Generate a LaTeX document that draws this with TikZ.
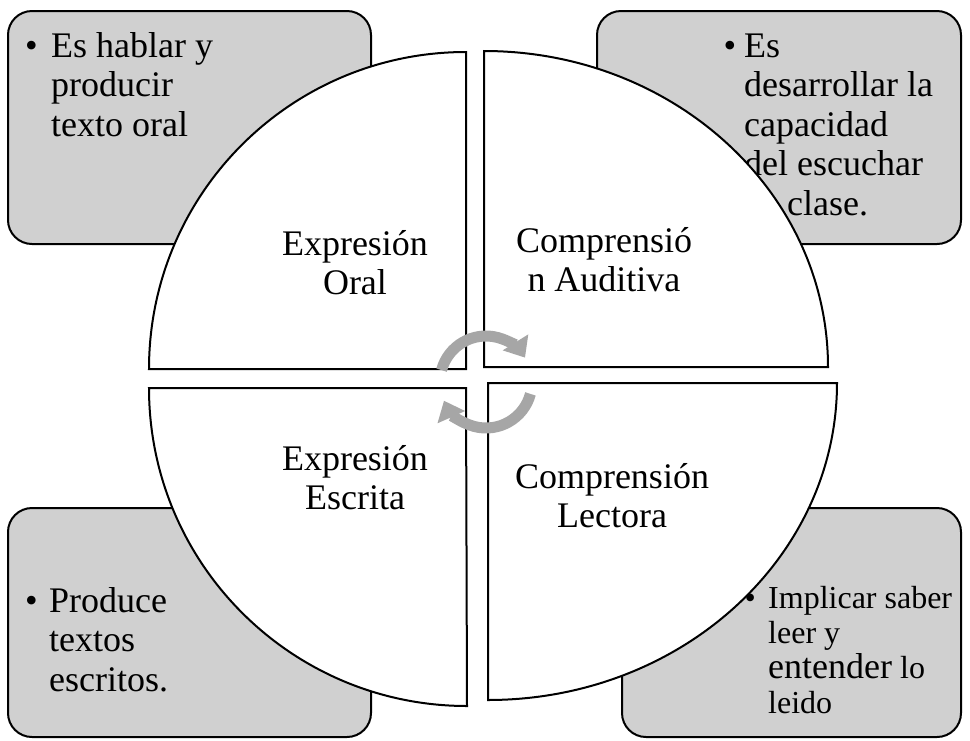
\documentclass[tikz,border=0pt]{standalone}
\usepackage{fontspec}
\setmainfont{Liberation Serif}
\usetikzlibrary{arrows.meta}
\definecolor{grisCaja}{RGB}{208,208,208}
\definecolor{grisFlecha}{RGB}{166,166,166}
\tikzset{
	caja/.style={draw=black, fill=grisCaja, line width=2pt, rounded corners=24pt, inner sep=0pt},
	cuarto/.style={draw=black, fill=white, line width=2pt, line join=miter},
	texto/.style={font=\fontsize{36}{39.5}\selectfont, align=left, anchor=north west, inner sep=0pt},
	vineta/.style={font=\fontsize{36}{39.5}\selectfont, anchor=base west, inner sep=0pt},
	titulo/.style={font=\fontsize{36}{39.5}\selectfont, align=center, anchor=north, inner sep=0pt},
	giro/.style={draw=grisFlecha, line width=11pt, line cap=butt, -{Triangle[width=29pt,length=18pt]}}
}
\begin{document}
\begin{tikzpicture}[x=1pt, y=1pt, line join=round, line cap=round]
		\useasboundingbox (0,0) rectangle (970,-740);
		% cajas de las esquinas
		\node[caja, minimum width=363pt, minimum height=233pt] (cajaOral) at (189.5,-127.5) {};
		\node[caja, minimum width=364pt, minimum height=233pt] (cajaAudi) at (779,-127.5) {};
		\node[caja, minimum width=363pt, minimum height=229pt] (cajaEscr) at (189.5,-622.5) {};
		\node[caja, minimum width=339pt, minimum height=229pt] (cajaLect) at (791.5,-622.5) {};
		\node[vineta] (vOral) at (25,-57) {\textbullet};
		\node[texto] (tOral) at (51,-29.35) {\strut Es hablar y\\producir\\texto oral};
		\node[vineta] (vAudi) at (723.5,-57) {\textbullet};
		\node[texto] (tAudi) at (744,-29.35) {\strut Es\\desarrollar la\\capacidad\\del escuchar\\en clase.};
		\node[vineta] (vEscr) at (25,-612) {\textbullet};
		\node[texto] (tEscr) at (49,-584.35) {\strut Produce\\textos\\escritos.};
		\node[texto, font=\fontsize{32}{35}\selectfont] (tLect) at (768,-583.5)
			{\strut Implicar saber\\leer y\\{\fontsize{36}{35}\selectfont entender} lo\\leido};
		% cuartos de circulo
		\draw[cuarto] (466,-369) -- (149,-369) arc[start angle=180, end angle=90, radius=317] -- cycle;
		\draw[cuarto] (484,-367) -- (484,-51) arc[start angle=90, end angle=0, x radius=344, y radius=316] -- cycle;
		\draw[cuarto] (466,-388) -- (149,-388) arc[start angle=180, end angle=270, radius=318] -- cycle;
		\draw[cuarto] (488,-383) -- (837,-383) arc[start angle=0, end angle=-90, x radius=349, y radius=317] -- cycle;
		\node[vineta, font=\fontsize{32}{35}\selectfont] (vLect) at (744.5,-608) {\textbullet};
		\node[titulo] (qOral) at (355,-227.35) {\strut Expresión\\Oral};
		\node[titulo] (qAudi) at (604,-224.35) {\strut Comprensió\\n Auditiva};
		\node[titulo] (qEscr) at (355,-442.35) {\strut Expresión\\Escrita};
		\node[titulo] (qLect) at (612,-460.35) {\strut Comprensión\\Lectora};
		% flechas del ciclo
		\coordinate (centro) at (486,-382);
		\draw[giro] ([shift={(165:46)}]centro) arc[start angle=165, end angle=32, radius=46];
		\draw[giro] ([shift={(-15:46)}]centro) arc[start angle=-15, end angle=-156, radius=46];
\end{tikzpicture}
\end{document}
